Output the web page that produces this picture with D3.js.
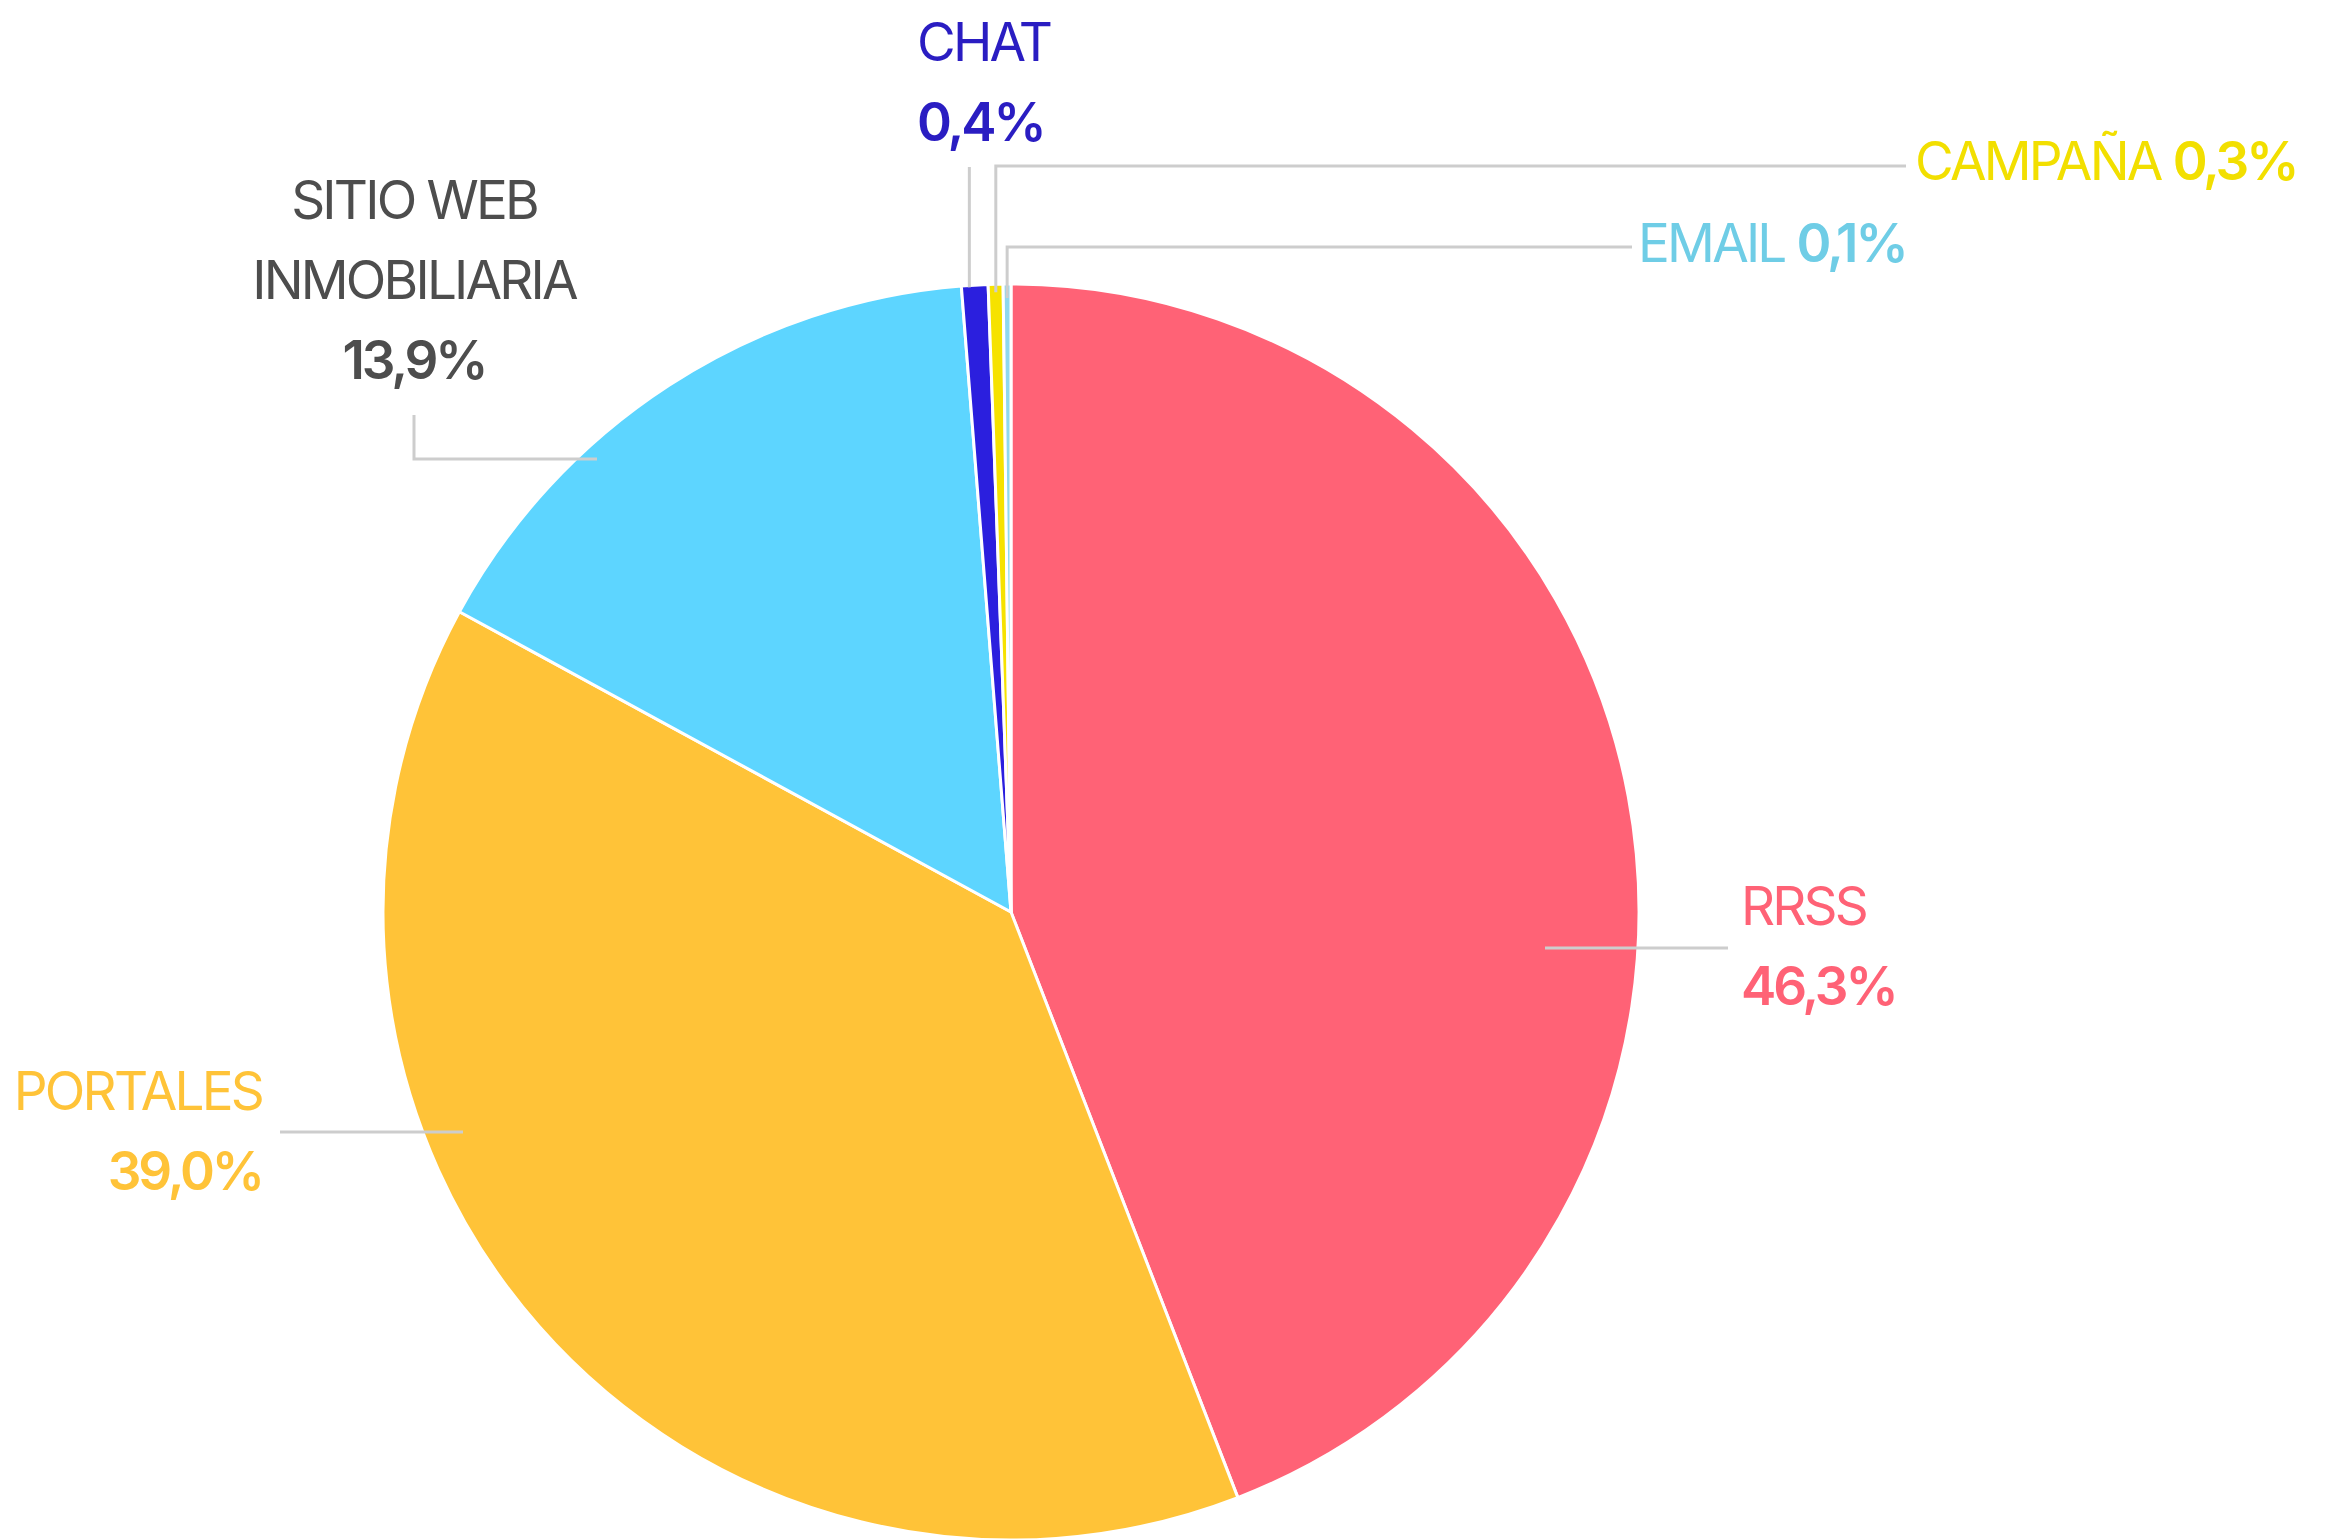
<!DOCTYPE html>
<html>
<head>
<meta charset="utf-8">
<script src="https://cdn.jsdelivr.net/npm/d3@7/dist/d3.min.js"></script>
<style>
  html, body { margin: 0; padding: 0; background: #ffffff; }
  svg { display: block; }
  text { font-family: "Inter", "Noto Sans", sans-serif; }
</style>
</head>
<body>
<svg id="chart" width="2341" height="1539"></svg>
<script>
// ---- data ----
const categories   = ["RRSS", "PORTALES", "SITIO WEB INMOBILIARIA", "CHAT", "CAMPAÑA", "EMAIL"];
const sliceShares  = [44.1, 38.8, 15.8, 0.68, 0.38, 0.2];          // slice sizes as drawn
const labelPercent = ["46,3%", "39,0%", "13,9%", "0,4%", "0,3%", "0,1%"]; // printed labels
const sliceColors  = ["#FF6276", "#FFC338", "#5DD5FF", "#2B1FDE", "#F6E200", "#8FD8EE"];
const textColors   = ["#FF6276", "#FFC338", "#4D4D4D", "#2A1DC2", "#F2DF00", "#6FCDE6"];

// ---- layout ----
const cx = 1011, cy = 912, R = 628;
const FS = 53, LH = 80;
const LS_REG = -2.8, LS_BOLD = -3.1;

const svg = d3.select("#chart");
const g = svg.append("g").attr("transform", `translate(${cx},${cy})`);

const pie = d3.pie().sort(null).value(d => d).startAngle(0).endAngle(2 * Math.PI);
const arcs = pie(sliceShares);
const arc = d3.arc().innerRadius(0).outerRadius(R);

g.selectAll("path.slice")
  .data(arcs)
  .join("path")
  .attr("class", "slice")
  .attr("d", arc)
  .attr("fill", (d, i) => sliceColors[i])
  .attr("stroke", "#ffffff")
  .attr("stroke-width", 3)
  .attr("stroke-linejoin", "round");

function polar(a, r) { return [cx + r * Math.sin(a), cy - r * Math.cos(a)]; }
function angAt(i, t) { const d = arcs[i]; return d.startAngle + t * (d.endAngle - d.startAngle); }

const leaders = [
  { i: 0, pts: () => { const y = 948; return [[1545, y], [1728, y]]; } },
  { i: 1, pts: () => { const y = 1132; return [[463, y], [280, y]]; } },
  { i: 2, pts: () => [[597, 459], [414, 459], [414, 415]] },
  { i: 3, pts: () => { const p = polar(angAt(3, 0.3), R); return [[p[0], p[1] + 2], [p[0], 167]]; } },
  { i: 4, pts: () => { const p = polar(angAt(4, 0.5), R - 8); return [p, [p[0], 166], [1906, 166]]; } },
  { i: 5, pts: () => { const p = polar(angAt(5, 0.5), R - 14); return [p, [p[0], 247], [1632, 247]]; } }
];

const line = d3.line();
svg.append("g").selectAll("path.leader")
  .data(leaders)
  .join("path")
  .attr("class", "leader")
  .attr("d", d => line(d.pts()))
  .attr("fill", "none")
  .attr("stroke", "#CDCDCD")
  .attr("stroke-width", 3);

const lab = svg.append("g");

function twoLine(i, x, y1, anchor, nameLines) {
  const t = lab.append("text").attr("text-anchor", anchor).attr("fill", textColors[i]).attr("font-size", FS);
  nameLines.forEach((s, k) => {
    t.append("tspan").attr("x", x).attr("y", y1 + k * LH).attr("font-weight", 400)
      .attr("letter-spacing", LS_REG).text(s);
  });
  t.append("tspan").attr("x", x).attr("y", y1 + nameLines.length * LH).attr("font-weight", 600)
    .attr("letter-spacing", LS_BOLD).text(labelPercent[i]);
}

function inline(i, x, y, name) {
  const t = lab.append("text").attr("x", x).attr("y", y).attr("fill", textColors[i]).attr("font-size", FS);
  t.append("tspan").attr("font-weight", 400).attr("letter-spacing", LS_REG).text(name + " ");
  t.append("tspan").attr("font-weight", 600).attr("letter-spacing", LS_BOLD).text(labelPercent[i]);
}

twoLine(0, 1741, 925, "start", [categories[0]]);
twoLine(1, 262, 1110, "end", [categories[1]]);
twoLine(2, 414, 219, "middle", ["SITIO WEB", "INMOBILIARIA"]);
twoLine(3, 917, 61, "start", [categories[3]]);
inline(4, 1915, 180, categories[4]);
inline(5, 1638, 262, categories[5]);
</script>
</body>
</html>
